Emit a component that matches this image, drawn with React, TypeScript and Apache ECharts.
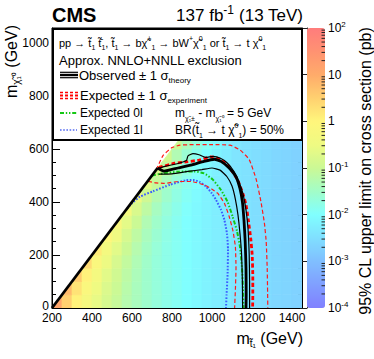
import React, { useEffect, useRef } from 'react';
import * as echarts from 'echarts';

const FONT = '"Liberation Sans", Arial, Helvetica, sans-serif';

// axis ranges and ticks
const X_RANGE = [200, 1450];
const Y_RANGE = [0, 1056];
const Z_RANGE = [-4, 2]; // log10(limit / pb)
const CELL = 50;

// heat map: log10 of the 95% CL upper limit (pb), one row per m_chi (lower edge, GeV),
// values from m_stop = m_chi + 200 up to 1400 GeV in 50 GeV steps
const ROW_MCHI = [0, 50, 100, 150, 200, 250, 300, 350, 400, 450, 500, 550, 600];
const LIMIT_ROWS = [
  [1.1, 0.5, 0.05, -0.3, -0.6, -0.85, -1.05, -1.25, -1.4, -1.55, -1.68, -1.8, -1.9, -2.0, -2.1, -2.18, -2.26, -2.33, -2.4, -2.46, -2.52, -2.57, -2.62, -2.66, -2.7],
  [0.8, 0.25, -0.15, -0.5, -0.78, -1.0, -1.22, -1.4, -1.55, -1.68, -1.8, -1.9, -2.0, -2.1, -2.18, -2.26, -2.33, -2.4, -2.46, -2.52, -2.57, -2.62, -2.66, -2.7],
  [0.55, 0.05, -0.35, -0.68, -0.93, -1.17, -1.37, -1.55, -1.68, -1.8, -1.9, -2.0, -2.1, -2.18, -2.26, -2.33, -2.4, -2.46, -2.52, -2.57, -2.62, -2.66, -2.7],
  [0.35, -0.15, -0.53, -0.83, -1.1, -1.32, -1.52, -1.68, -1.8, -1.9, -2.0, -2.1, -2.18, -2.26, -2.33, -2.4, -2.46, -2.52, -2.57, -2.62, -2.66, -2.7],
  [0.15, -0.33, -0.68, -1.0, -1.25, -1.47, -1.65, -1.8, -1.9, -2.0, -2.1, -2.18, -2.26, -2.33, -2.4, -2.46, -2.52, -2.57, -2.62, -2.66, -2.7],
  [-0.03, -0.48, -0.85, -1.15, -1.4, -1.6, -1.77, -1.9, -2.0, -2.1, -2.18, -2.26, -2.33, -2.4, -2.46, -2.52, -2.57, -2.62, -2.66, -2.7],
  [-0.18, -0.65, -1.0, -1.3, -1.53, -1.72, -1.87, -2.0, -2.1, -2.18, -2.26, -2.33, -2.4, -2.46, -2.52, -2.57, -2.62, -2.66, -2.7],
  [-0.35, -0.8, -1.15, -1.43, -1.65, -1.82, -1.97, -2.1, -2.18, -2.26, -2.33, -2.4, -2.46, -2.52, -2.57, -2.62, -2.66, -2.7],
  [-0.5, -0.95, -1.28, -1.55, -1.75, -1.92, -2.07, -2.18, -2.26, -2.33, -2.4, -2.46, -2.52, -2.57, -2.62, -2.66, -2.7],
  [-0.65, -1.08, -1.4, -1.65, -1.85, -2.02, -2.15, -2.26, -2.33, -2.4, -2.46, -2.52, -2.57, -2.62, -2.66, -2.7],
  [-0.78, -1.2, -1.5, -1.75, -1.95, -2.1, -2.23, -2.33, -2.4, -2.46, -2.52, -2.57, -2.62, -2.66, -2.7],
  [-0.9, -1.3, -1.6, -1.85, -2.03, -2.18, -2.3, -2.4, -2.46, -2.52, -2.57, -2.62, -2.66, -2.7],
  [-1.0, -1.4, -1.7, -1.93, -2.11, -2.25, -2.37, -2.46, -2.52, -2.57, -2.62, -2.66, -2.7],
];

// exclusion contours [m_stop, m_chi] (GeV)
const DIAGONAL = [[200, 0], [728, 528]];
const OBSERVED = [[728, 528], [760, 516], [830, 528], [900, 540], [960, 553], [1012, 561], [1045, 553], [1086, 528], [1120, 495], [1140, 450], [1152, 400], [1160, 330], [1166, 250], [1170, 150], [1171, 50], [1170, 0]];
const OBSERVED_M1 = [[735, 505], [800, 506], [880, 515], [950, 522], [1000, 528], [1040, 520], [1075, 495], [1100, 460], [1117, 410], [1130, 350], [1140, 280], [1148, 200], [1152, 100], [1153, 0]];
const OBSERVED_P1 = [[725, 525], [770, 535], [830, 545], [872, 556], [880, 574], [905, 582], [935, 578], [970, 568], [1005, 572], [1040, 566], [1075, 548], [1110, 515], [1135, 475], [1155, 430], [1170, 370], [1180, 300], [1186, 200], [1188, 100], [1188, 0]];
const EXPECTED = [[735, 530], [813, 546], [880, 552], [937, 558], [995, 570], [1028, 565], [1078, 540], [1128, 483], [1155, 430], [1170, 390], [1182, 330], [1194, 260], [1201, 200], [1204, 120], [1204, 40], [1203, 0]];
const EXPECTED_M1 = [[680, 478], [720, 472], [763, 470], [829, 477], [896, 477], [962, 464], [1000, 448], [1028, 433], [1062, 395], [1086, 345], [1105, 290], [1117, 230], [1120, 150], [1117, 70], [1113, 0]];
const EXPECTED_P1 = [[722, 522], [755, 575], [800, 605], [840, 614], [900, 616], [1000, 616], [1090, 614], [1140, 596], [1186, 560], [1221, 485], [1245, 400], [1262, 320], [1271, 250], [1276, 150], [1278, 60], [1279, 0]];
const EXPECTED_0L = [[700, 500], [760, 508], [830, 514], [910, 515], [960, 508], [1003, 485], [1045, 445], [1078, 400], [1103, 345], [1125, 290], [1140, 230], [1150, 150], [1155, 70], [1157, 0]];
const EXPECTED_1L = [[575, 375], [600, 395], [640, 420], [705, 440], [790, 465], [870, 482], [905, 483], [940, 475], [970, 458], [1000, 432], [1020, 408], [1045, 370], [1062, 332], [1075, 280], [1080, 220], [1078, 130], [1073, 50], [1070, 0]];

const PALETTE = ['#8080ff', '#809fff', '#80bfff', '#80dfff', '#80ffff', '#a2fdc8', '#cbf995', '#effa82', '#fff67c', '#ffd070', '#ffab6a', '#ff9272', '#ff7c7c'];

const rich = (fs: number, supScale = 0.62) => ({
  n: { fontSize: fs, lineHeight: fs + 5, fontFamily: FONT, color: '#000' },
  sub: { fontSize: Math.round(fs * 0.62), lineHeight: Math.round(fs * 0.62), verticalAlign: 'bottom', fontFamily: FONT, color: '#000' },
  sup: { fontSize: Math.round(fs * supScale), lineHeight: Math.round(fs * supScale), verticalAlign: 'top', fontFamily: FONT, color: '#000' },
});

function txt(x: number, y: number, text: string, fs: number, extra: any = {}, supScale = 0.62) {
  return {
    type: 'text', x, y, z: 110,
    style: { text, rich: rich(fs, supScale), fontSize: fs, fontFamily: FONT, fill: '#000', align: 'left', verticalAlign: 'middle', ...extra },
  };
}
function seg(x1: number, y1: number, x2: number, y2: number, stroke: string, lineWidth: number, lineDash?: number[]) {
  return { type: 'line', z: 110, shape: { x1, y1, x2, y2 }, style: { stroke, lineWidth, lineDash } };
}

export default function App() {
  const ref = useRef<HTMLDivElement>(null);
  useEffect(() => {
    if (!ref.current) return;
    const chart = echarts.init(ref.current, undefined, { renderer: 'svg' });

    const heatData: number[][] = [];
    ROW_MCHI.forEach((c, r) => LIMIT_ROWS[r].forEach((v, i) => heatData.push([c + 200 + CELL * i, c, v])));

    const minorLog: number[][] = [];
    for (let n = Z_RANGE[0]; n < Z_RANGE[1]; n++) for (let k = 2; k <= 9; k++) minorLog.push([1, n + Math.log10(k)]);

    const contour = (name: string, data: number[][], color: string, width: number, type: any, z: number) => ({
      name, type: 'line', data, xAxisIndex: 0, yAxisIndex: 0, showSymbol: false, symbol: 'none', z,
      smooth: 0.15, clip: true, silent: true,
      lineStyle: { color, width, type, cap: 'butt' },
    });

    const axisCommon = {
      axisLine: { show: true, onZero: false, lineStyle: { color: '#000', width: 1 } },
      axisTick: { show: true, inside: true, length: 8, lineStyle: { color: '#000', width: 1 } },
      minorTick: { show: true, splitNumber: 4, length: 4, lineStyle: { color: '#000', width: 1 } },
      splitLine: { show: false },
      minorSplitLine: { show: false },
    };
    const plain = (v: number) => String(Math.round(v));

    const option: any = {
      animation: false,
      grid: [
        { left: 52, right: 72, top: 28, bottom: 51, show: true, borderColor: '#000', borderWidth: 1, backgroundColor: 'transparent', containLabel: false, outerBoundsMode: 'none' },
        { left: 307, right: 49, top: 28, bottom: 51, show: false, containLabel: false, outerBoundsMode: 'none' },
      ],
      xAxis: [
        {
          gridIndex: 0, type: 'value', min: X_RANGE[0], max: X_RANGE[1], interval: 200, ...axisCommon,
          axisLabel: { color: '#000', fontSize: 12, lineHeight: 8, fontFamily: FONT, margin: 6, showMaxLabel: false, formatter: plain },
        },
        { gridIndex: 1, type: 'value', min: 0, max: 1, show: false },
      ],
      yAxis: [
        {
          gridIndex: 0, type: 'value', min: Y_RANGE[0], max: Y_RANGE[1], interval: 200, position: 'left', ...axisCommon,
          axisLabel: {
            color: '#000', fontFamily: FONT, margin: 3, showMaxLabel: false,
            formatter: (v: number) => (Math.round(v) === 0 ? '{z|0}' : '{d|' + Math.round(v) + '}'),
            rich: {
              d: { fontSize: 12, lineHeight: 10, fontFamily: FONT, color: '#000' },
              z: { fontSize: 12, lineHeight: 10, padding: [0, 0, 5, 0], fontFamily: FONT, color: '#000' },
            },
          },
        },
        {
          gridIndex: 0, type: 'value', min: Y_RANGE[0], max: Y_RANGE[1], interval: 200, position: 'right', ...axisCommon,
          axisLabel: { show: false },
        },
        {
          gridIndex: 1, type: 'value', min: Z_RANGE[0], max: Z_RANGE[1], interval: 1, position: 'right',
          axisLine: { show: true, lineStyle: { color: '#222', width: 1 } },
          axisTick: { show: true, inside: true, length: 7, lineStyle: { color: '#222', width: 1 } },
          splitLine: { show: false },
          axisLabel: {
            color: '#000', margin: 3, fontFamily: FONT,
            formatter: (v: number) => {
              const n = Math.round(v);
              if (n === 0) return '{b|1}';
              if (n === 1) return '{b|10}';
              return '{b|10}{sup|' + n + '}';
            },
            rich: {
              b: { fontSize: 12, lineHeight: 16, fontFamily: FONT, color: '#000' },
              sup: { fontSize: 8, lineHeight: 8, verticalAlign: 'top', fontFamily: FONT, color: '#000' },
            },
          },
        },
      ],
      visualMap: {
        type: 'continuous', min: Z_RANGE[0], max: Z_RANGE[1], dimension: 2, seriesIndex: 0,
        left: 307, top: 28, itemWidth: 18, itemHeight: 280, padding: 0, calculable: false,
        text: ['', ''], showLabel: false, hoverLink: false,
        inRange: { color: PALETTE },
      },
      series: [
        {
          type: 'custom', name: 'limit', data: heatData, xAxisIndex: 0, yAxisIndex: 0, clip: true, z: 1, silent: true,
          encode: { x: 0, y: 1 },
          renderItem: (params: any, api: any) => {
            const s = api.value(0);
            const c = api.value(1);
            const p00 = api.coord([s, c]);
            const p10 = api.coord([s + CELL, c]);
            const p11 = api.coord([s + CELL, c + CELL]);
            const p01 = api.coord([s, c + CELL]);
            const color = api.visual('color');
            const diag = Math.abs(c - (s - 200)) < 1e-6;
            return {
              type: 'polygon',
              shape: { points: diag ? [p00, p10, p11] : [p00, p10, p11, p01] },
              style: { fill: color, stroke: color, lineWidth: 0.7 },
            };
          },
        },
        {
          type: 'custom', name: 'logMinor', data: minorLog, xAxisIndex: 1, yAxisIndex: 2, z: 5, silent: true,
          encode: { x: 0, y: 1 },
          renderItem: (params: any, api: any) => {
            const p = api.coord([api.value(0), api.value(1)]);
            return { type: 'line', shape: { x1: p[0] - 3.5, y1: p[1], x2: p[0], y2: p[1] }, style: { stroke: '#222', lineWidth: 1 } };
          },
        },
        contour('Expected 1l', EXPECTED_1L, '#3a5cff', 2, [1.6, 1.6], 10),
        contour('Expected 0l', EXPECTED_0L, '#14c814', 2, [4, 1.8, 1.4, 1.8, 1.4, 1.8], 11),
        contour('Expected -1', EXPECTED_M1, '#ff1a1a', 1.2, [4, 2.5], 12),
        contour('Expected +1', EXPECTED_P1, '#ff1a1a', 1.2, [4, 2.5], 12),
        contour('Expected', EXPECTED, '#ff0000', 2.8, [4, 2.5], 13),
        contour('Observed -1', OBSERVED_M1, '#000', 1.2, 'solid', 14),
        contour('Observed +1', OBSERVED_P1, '#000', 1.2, 'solid', 14),
        contour('Observed', OBSERVED, '#000', 2.8, 'solid', 15),
        { ...contour('Diagonal', DIAGONAL, '#000', 2.8, 'solid', 15), smooth: false },
      ],
      graphic: [
        // top labels
        { type: 'text', x: 52, y: 15, z: 110, style: { text: 'CMS', fontSize: 20, fontWeight: 'bold', fontFamily: FONT, fill: '#000', align: 'left', verticalAlign: 'middle' } },
        txt(303, 15, '{n|137 fb}{sup|-1}{n| (13 TeV)}', 17, { align: 'right' }, 0.7),
        // axis titles
        txt(303, 338, '{n|m}{sub|t̃₁}{n| (GeV)}', 16, { align: 'right' }),
        { ...txt(11, 25, '{n|m}{sub|χ̃₁⁰}{n| (GeV)}', 16, { align: 'right' }), rotation: Math.PI / 2 },
        { ...txt(365, 171, '95% CL upper limit on cross section (pb)', 16, { align: 'center' }), rotation: Math.PI / 2 },
        // legend box
        { type: 'rect', z: 105, shape: { x: 53, y: 29, width: 249, height: 111 }, style: { fill: '#fff', stroke: '#000', lineWidth: 2 } },
        txt(59, 43, '{n|pp → t̃}{sub|1}{n| t̃̄}{sub|1}{n|, t̃}{sub|1}{n| → bχ̃}{sup|+}{sub|1}{n| → bW}{sup|+}{n|χ̃}{sup|0}{sub|1}{n| or t̃}{sub|1}{n| → t χ̃}{sup|0}{sub|1}', 11),
        txt(59, 60, 'Approx. NNLO+NNLL exclusion', 13),
        seg(60, 72.3, 78, 72.3, '#000', 1.2),
        seg(60, 75, 78, 75, '#000', 2.4),
        seg(60, 77.7, 78, 77.7, '#000', 1.2),
        txt(79, 75, '{n|Observed ± 1 σ}{sub|theory}', 13),
        seg(60, 92.5, 78, 92.5, '#ff0000', 1.3, [3, 2]),
        seg(60, 95.5, 78, 95.5, '#ff0000', 1.8, [3, 2]),
        seg(60, 98.5, 78, 98.5, '#ff0000', 1.3, [3, 2]),
        txt(80, 95, '{n|Expected ± 1 σ}{sub|experiment}', 13),
        seg(60, 113, 77, 113, '#14c814', 1.8, [4, 1.8, 1.4, 1.8, 1.4, 1.8]),
        txt(80, 113, 'Expected 0l', 12),
        seg(60, 130, 77, 130, '#7f90f5', 2, [1.6, 1.6]),
        txt(80, 130, 'Expected 1l', 12),
        txt(175, 113, '{n|m}{sub|χ̃₁±}{n| - m}{sub|χ̃₁⁰}{n| = 5 GeV}', 12),
        txt(175, 130, '{n|BR(t̃}{sub|1}{n| → t χ̃}{sup|0}{sub|1}{n|) = 50%}', 12),
      ],
    };
    chart.setOption(option);
    return () => chart.dispose();
  }, []);
  return <div ref={ref} style={{ position: 'fixed', left: 0, top: 0, width: 374, height: 359, background: '#fff' }} />;
}
